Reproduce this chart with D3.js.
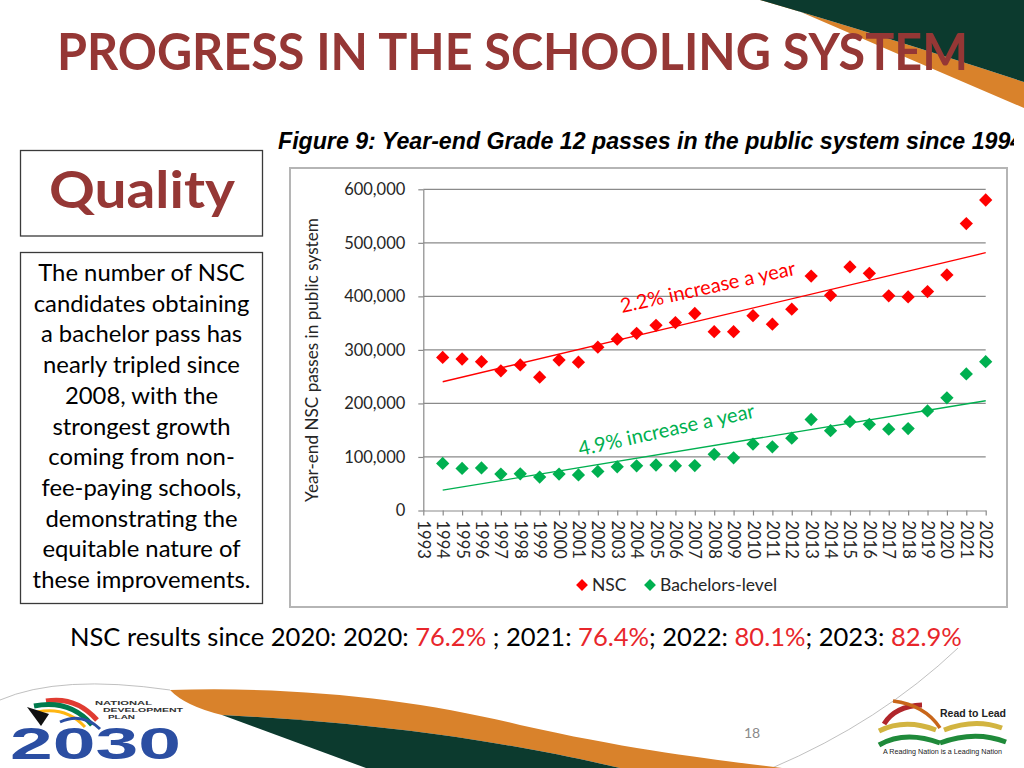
<!DOCTYPE html>
<html>
<head>
<meta charset="utf-8">
<script src="https://cdn.jsdelivr.net/npm/d3@7/dist/d3.min.js"></script>
<style>
  html, body { margin: 0; padding: 0; background: #ffffff; }
  svg { display: block; }
</style>
</head>
<body>
<svg id="slide" width="1024" height="768"></svg>
<script>
// ---------------- DATA ----------------
const years = [1994,1995,1996,1997,1998,1999,2000,2001,2002,2003,2004,2005,2006,2007,2008,2009,2010,2011,2012,2013,2014,2015,2016,2017,2018,2019,2020,2021,2022];
const nscPasses = [286000,283000,278000,261000,272000,249000,281000,277000,305000,320000,331000,346000,351000,368000,334000,334000,364000,348000,376000,438000,402000,455000,443000,401000,399000,409000,440000,536000,580000];
const bachelorPasses = [88000,78500,79500,68000,68500,62500,68000,66500,73000,81500,83500,85000,83500,84000,105000,98500,124000,119000,135000,170000,149000,166000,161000,152000,153000,186000,210500,255000,278000];
const tickYears = [1993,1994,1995,1996,1997,1998,1999,2000,2001,2002,2003,2004,2005,2006,2007,2008,2009,2010,2011,2012,2013,2014,2015,2016,2017,2018,2019,2020,2021,2022];
const yTicks = [0,100000,200000,300000,400000,500000,600000];
const trendYears = [1994, 2022];
const nscTrend = [240500, 481500];
const bachelorTrend = [38000, 205000];
const seriesNames = ["NSC", "Bachelors-level"];
const trendLabels = ["2.2% increase a year", "4.9% increase a year"];
const titleText = "PROGRESS IN THE SCHOOLING SYSTEM";
const captionText = "Figure 9: Year-end Grade 12 passes in the public system since 1994";
const yAxisTitle = "Year-end NSC passes in public system";
const boxHeading = "Quality";
const boxLines = ["The number of NSC","candidates obtaining","a bachelor pass has","nearly tripled since","2008, with the","strongest growth","coming from non-","fee-paying schools,","demonstrating the","equitable nature of","these improvements."];
const resultsParts = [["NSC results since 2020: 2020: ", false],["76.2%", true],[" ; 2021: ", false],["76.4%", true],["; 2022: ", false],["80.1%", true],["; 2023: ", false],["82.9%", true]];
const pageNumber = "18";

// ---------------- STYLE ----------------
const RED = "#ff0000", GREEN = "#00b050", MAROON = "#953735", DKGREEN = "#0c3a2e", ORANGE = "#d9822b";
const FONT = "Lato, 'Open Sans', sans-serif";
const svg = d3.select("#slide");

function fitWidth(sel, w) {
  const cur = sel.node().getComputedTextLength();
  const fs = parseFloat(sel.attr("font-size"));
  sel.attr("font-size", fs * w / cur);
  return fs * w / cur;
}

// ---------------- DECORATIONS ----------------
const deco = svg.append("g");
deco.append("path").attr("d", "M760,0 Q880,35 1024,82 L1024,108 Q900,55 773,0 Z").attr("fill", ORANGE);
deco.append("path").attr("d", "M760,0 L1024,0 L1024,82 Q880,35 760,0 Z").attr("fill", DKGREEN);
// bottom wave
deco.append("path").attr("d", "M0,700 Q60,674 170,690").attr("fill", "none").attr("stroke", "#b0b0b0").attr("stroke-width", 0.8);
deco.append("path").attr("d", "M772,768 Q880,722 958,648").attr("fill", "none").attr("stroke", "#b0b0b0").attr("stroke-width", 0.8);
deco.append("path").attr("d", "M170,690 C300,686 420,700 520,725 C640,752 720,760 782,768 L620,768 C520,745 400,724 222,715 Q185,706 170,690 Z").attr("fill", ORANGE);
deco.append("path").attr("d", "M222,715 C400,724 520,745 620,768 L366,768 Z").attr("fill", DKGREEN);

// NDP 2030 logo
const ndp = svg.append("g");
ndp.append("path").attr("d", "M46,701 Q76,696 97,720").attr("fill", "none").attr("stroke", "#e03c31").attr("stroke-width", 5);
ndp.append("path").attr("d", "M34,706 Q70,699 92,725").attr("fill", "none").attr("stroke", "#007a4d").attr("stroke-width", 5);
ndp.append("path").attr("d", "M37,712 Q66,706 85,727").attr("fill", "none").attr("stroke", "#ffb612").attr("stroke-width", 3);
ndp.append("path").attr("d", "M27,707 L49,714 L41,726 Z").attr("fill", "#111");
ndp.append("path").attr("d", "M60,722 Q82,712 100,729").attr("fill", "none").attr("stroke", "#2b4ea2").attr("stroke-width", 3);
ndp.append("text").attr("x", 10).attr("y", 759).attr("font-family", "'Liberation Sans', Arial, sans-serif").attr("font-weight", "bold")
  .attr("font-size", 44).attr("fill", "#2b4ea2").attr("textLength", 171).attr("lengthAdjust", "spacingAndGlyphs").text("2030");
[["NATIONAL", 95, 705, 57], ["DEVELOPMENT", 103, 712, 80], ["PLAN", 108, 719, 27]].forEach(([t, x, y, w]) => {
  ndp.append("text").attr("x", x).attr("y", y).attr("font-family", "'Liberation Sans', Arial, sans-serif").attr("font-weight", "bold")
    .attr("font-size", 6.2).attr("fill", "#333").attr("textLength", w).attr("lengthAdjust", "spacingAndGlyphs").text(t);
});

// Read to Lead logo
const rtl = svg.append("g");
rtl.append("path").attr("d", "M884,724 Q895,706 922,705").attr("fill", "none").attr("stroke", "#b0262b").attr("stroke-width", 5);
rtl.append("path").attr("d", "M893,701 Q925,705 940,728").attr("fill", "none").attr("stroke", "#c8661a").attr("stroke-width", 3.5);
rtl.append("path").attr("d", "M879,731 Q905,718 936,730").attr("fill", "none").attr("stroke", "#d2b440").attr("stroke-width", 5);
rtl.append("path").attr("d", "M944,730 Q975,718 1002,728").attr("fill", "none").attr("stroke", "#d2b440").attr("stroke-width", 5);
rtl.append("path").attr("d", "M879,745 Q905,730 940,743").attr("fill", "none").attr("stroke", "#1f8a3a").attr("stroke-width", 5);
rtl.append("path").attr("d", "M940,743 Q975,730 1006,742").attr("fill", "none").attr("stroke", "#1f8a3a").attr("stroke-width", 5);
rtl.append("text").attr("x", 940).attr("y", 717).attr("font-family", "'Liberation Sans Narrow', 'Liberation Sans', sans-serif").attr("font-weight", "bold")
  .attr("font-size", 11).attr("fill", "#222").attr("textLength", 66).attr("lengthAdjust", "spacingAndGlyphs").text("Read to Lead");
rtl.append("text").attr("x", 883).attr("y", 754).attr("font-family", "'Liberation Sans', sans-serif")
  .attr("font-size", 6.5).attr("fill", "#222").attr("textLength", 119).attr("lengthAdjust", "spacingAndGlyphs").text("A Reading Nation is a Leading Nation");

// page number
svg.append("text").attr("x", 752).attr("y", 738).attr("text-anchor", "middle").attr("font-family", FONT)
  .attr("font-size", 14).attr("fill", "#8a8a8a").text(pageNumber);

// ---------------- TITLE ----------------
svg.append("text").attr("x", 57).attr("y", 70).attr("font-family", FONT).attr("font-weight", "bold")
  .attr("font-size", 51).attr("fill", MAROON).attr("textLength", 911).attr("lengthAdjust", "spacingAndGlyphs").text(titleText);

// ---------------- LEFT BOXES ----------------
svg.append("rect").attr("x", 20.5).attr("y", 150.5).attr("width", 242).attr("height", 85.5)
  .attr("fill", "#fff").attr("stroke", "#3a3a3a").attr("stroke-width", 1.3);
svg.append("text").attr("x", 49).attr("y", 208).attr("font-family", FONT).attr("font-weight", "bold")
  .attr("font-size", 51).attr("fill", MAROON).attr("textLength", 186).attr("lengthAdjust", "spacingAndGlyphs").text(boxHeading);

svg.append("rect").attr("x", 20.5).attr("y", 252.5).attr("width", 242).attr("height", 351)
  .attr("fill", "#fff").attr("stroke", "#3a3a3a").attr("stroke-width", 1.3);
const probe = svg.append("text").attr("font-family", FONT).attr("font-size", 21).text(boxLines[boxLines.length - 1]);
const bodyFs = fitWidth(probe, 218);
probe.remove();
boxLines.forEach((ln, i) => {
  svg.append("text").attr("x", 141.5).attr("y", 281 + i * 30.7).attr("text-anchor", "middle")
    .attr("font-family", FONT).attr("font-size", bodyFs).attr("fill", "#000").text(ln);
});

// ---------------- RESULTS LINE ----------------
const res = svg.append("text").attr("x", 70).attr("y", 646).attr("font-family", FONT).attr("font-size", 23).attr("fill", "#000");
resultsParts.forEach(([t, hl]) => res.append("tspan").attr("fill", hl ? "#e8262b" : "#000").text(t));
fitWidth(res, 892);

// ---------------- CHART ----------------
svg.append("rect").attr("x", 290).attr("y", 168).attr("width", 717).attr("height", 439)
  .attr("fill", "#fff").attr("stroke", "#b5b5b5").attr("stroke-width", 2);

// caption
svg.append("clipPath").attr("id", "capclip").append("rect").attr("x", 0).attr("y", 100).attr("width", 1014).attr("height", 60);
const capProbe = svg.append("text").attr("font-family", "'Liberation Sans', Arial, sans-serif").attr("font-weight", "bold")
  .attr("font-style", "italic").attr("font-size", 19).text(captionText.slice(0, -1));
const capFs = fitWidth(capProbe, 733);
capProbe.remove();
svg.append("text").attr("clip-path", "url(#capclip)").attr("x", 278).attr("y", 149)
  .attr("font-family", "'Liberation Sans', Arial, sans-serif").attr("font-weight", "bold").attr("font-style", "italic")
  .attr("font-size", capFs).attr("fill", "#000").text(captionText);

const x = d3.scaleLinear().domain([d3.min(tickYears), d3.max(tickYears)]).range([423.3, 985.7]);
const y = d3.scaleLinear().domain([0, d3.max(yTicks)]).range([510.5, 189.3]);

// gridlines
svg.append("g").selectAll("line").data(yTicks.filter(d => d > 0)).join("line")
  .attr("x1", x.range()[0]).attr("x2", x.range()[1]).attr("y1", d => y(d)).attr("y2", d => y(d))
  .attr("stroke", "#8a8a8a").attr("stroke-width", 1.2);

// y axis
const yAxis = svg.append("g").attr("transform", `translate(${x.range()[0]},0)`)
  .call(d3.axisLeft(y).tickValues(yTicks).tickFormat(d3.format(",")).tickSize(5).tickSizeOuter(0).tickPadding(13));
yAxis.selectAll("path, line").attr("stroke", "#8a8a8a").attr("stroke-width", 1.2);
yAxis.selectAll("text").attr("font-family", FONT).attr("font-size", 16.5).attr("fill", "#262626");

// x axis
const xAxis = svg.append("g").attr("transform", `translate(0,${y(0)})`)
  .call(d3.axisBottom(x).tickValues(tickYears).tickFormat(d3.format("d")).tickSize(5).tickSizeOuter(0));
xAxis.selectAll("path, line").attr("stroke", "#8a8a8a").attr("stroke-width", 1.2);
xAxis.selectAll("text").attr("font-family", FONT).attr("font-size", 16.5).attr("fill", "#262626")
  .attr("transform", "rotate(90)").attr("text-anchor", "start").attr("x", 10).attr("y", 0).attr("dy", "0.36em");

// y axis title
const yt = svg.append("text").attr("transform", "translate(318,360) rotate(-90)").attr("text-anchor", "middle")
  .attr("font-family", FONT).attr("font-size", 16.5).attr("fill", "#262626").text(yAxisTitle);
fitWidth(yt, 284);

// trend lines
const line = d3.line().x(d => x(d[0])).y(d => y(d[1]));
svg.append("path").attr("d", line(trendYears.map((t, i) => [t, nscTrend[i]]))).attr("stroke", RED).attr("stroke-width", 1.3).attr("fill", "none");
svg.append("path").attr("d", line(trendYears.map((t, i) => [t, bachelorTrend[i]]))).attr("stroke", GREEN).attr("stroke-width", 1.3).attr("fill", "none");

// trend labels
const tl1 = svg.append("text").attr("transform", "translate(622,313) rotate(-12.4)").attr("font-family", FONT)
  .attr("font-size", 17).attr("fill", RED).text(trendLabels[0]);
fitWidth(tl1, 179);
const tl2 = svg.append("text").attr("transform", "translate(580,456) rotate(-12.4)").attr("font-family", FONT)
  .attr("font-size", 17).attr("fill", GREEN).text(trendLabels[1]);
fitWidth(tl2, 180);

// markers
const diamond = d3.symbol(d3.symbolSquare, 88);
svg.append("g").selectAll("path").data(years.map((yr, i) => [yr, nscPasses[i]])).join("path")
  .attr("d", diamond).attr("transform", d => `translate(${x(d[0])},${y(d[1])}) rotate(45)`).attr("fill", RED);
svg.append("g").selectAll("path").data(years.map((yr, i) => [yr, bachelorPasses[i]])).join("path")
  .attr("d", diamond).attr("transform", d => `translate(${x(d[0])},${y(d[1])}) rotate(45)`).attr("fill", GREEN);

// legend
const legend = svg.append("g");
[[582, RED, seriesNames[0]], [650, GREEN, seriesNames[1]]].forEach(([lx, c, name]) => {
  legend.append("path").attr("d", d3.symbol(d3.symbolSquare, 70)).attr("transform", `translate(${lx},585) rotate(45)`).attr("fill", c);
  legend.append("text").attr("x", lx + 10).attr("y", 591).attr("font-family", FONT).attr("font-size", 17.5).attr("fill", "#262626").text(name);
});
</script>
</body>
</html>
